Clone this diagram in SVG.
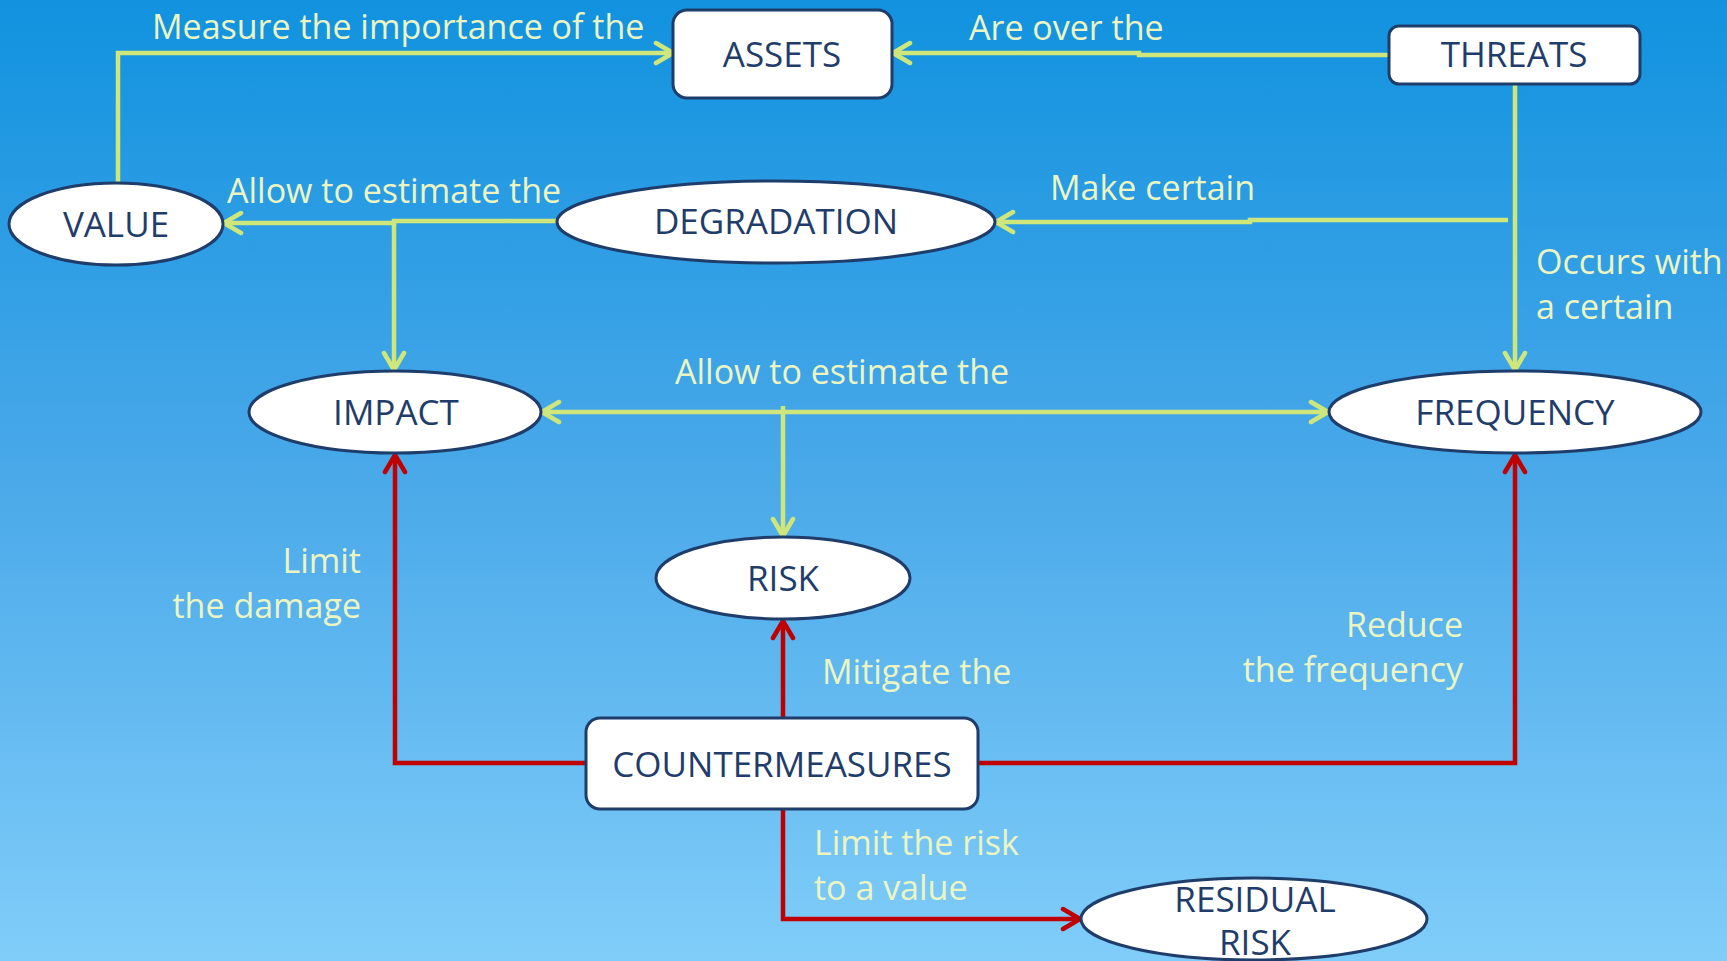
<svg xmlns="http://www.w3.org/2000/svg" width="1727" height="961" viewBox="0 0 1727 961">
<defs>
<linearGradient id="bg" x1="0" y1="0" x2="0" y2="1">
<stop offset="0" stop-color="#1192df"/>
<stop offset="0.5" stop-color="#4aa9e9"/>
<stop offset="1" stop-color="#80cdf9"/>
</linearGradient>
<marker id="ag" viewBox="0 0 22 26" refX="20" refY="13" markerWidth="22" markerHeight="26" markerUnits="userSpaceOnUse" orient="auto-start-reverse">
<path d="M3,3 L20,13 L3,23" fill="none" stroke="#cfe67a" stroke-width="4.5" stroke-linecap="round" stroke-linejoin="round"/>
</marker>
<marker id="ar" viewBox="0 0 22 26" refX="20" refY="13" markerWidth="22" markerHeight="26" markerUnits="userSpaceOnUse" orient="auto-start-reverse">
<path d="M3,3 L20,13 L3,23" fill="none" stroke="#c00000" stroke-width="4.5" stroke-linecap="round" stroke-linejoin="round"/>
</marker>
</defs>
<style>
.node{fill:#ffffff;stroke:#1f3d6b;stroke-width:3}
.nt{font-family:"Open Sans","Liberation Sans",sans-serif;font-size:35px;fill:#1f3d6b;text-anchor:middle}
.lb{font-family:"Open Sans","Liberation Sans",sans-serif;font-size:34px;fill:#ecf5c2}
.g{fill:none;stroke:#cfe67a;stroke-width:4.5;marker-end:url(#ag)}
.r{fill:none;stroke:#c00000;stroke-width:4.5;marker-end:url(#ar)}
</style>
<rect x="0" y="0" width="1727" height="961" fill="url(#bg)"/>

<g id="connectors">
<path class="g" d="M118,182 L118,53 L673,53"/>
<path class="g" d="M1389,55 L1139,55 L1139,53 L893,53"/>
<path class="g" d="M557,221 L394,221 L394,223 L224,223"/>
<path class="g" d="M394,223 L394,370"/>
<path class="g" d="M1508,220 L1250,220 L1250,222 L996,222"/>
<path class="g" d="M1515,84 L1515,370"/>
<path class="g" d="M542,412 L1328,412" style="marker-start:url(#ag)"/>
<path class="g" d="M783,406 L783,536"/>
<path class="r" d="M586,763 L395,763 L395,455"/>
<path class="r" d="M783,718 L783,621"/>
<path class="r" d="M978,763 L1515,763 L1515,455"/>
<path class="r" d="M783,809 L783,919 L1080,919"/>
</g>

<g id="labels">
<text class="lb" x="152" y="39">Measure the importance of the</text>
<text class="lb" x="969" y="40">Are over the</text>
<text class="lb" x="227" y="203">Allow to estimate the</text>
<text class="lb" x="1050" y="200">Make certain</text>
<text class="lb" x="1536" y="274">Occurs with</text>
<text class="lb" x="1536" y="319">a certain</text>
<text class="lb" x="675" y="384">Allow to estimate the</text>
<text class="lb" x="361" y="573" text-anchor="end">Limit</text>
<text class="lb" x="361" y="618" text-anchor="end">the damage</text>
<text class="lb" x="822" y="684">Mitigate the</text>
<text class="lb" x="1463" y="637" text-anchor="end">Reduce</text>
<text class="lb" x="1463" y="682" text-anchor="end">the frequency</text>
<text class="lb" x="814" y="855">Limit the risk</text>
<text class="lb" x="814" y="900">to a value</text>
</g>

<g id="assets">
<rect class="node" x="673" y="10" width="219" height="88" rx="14"/>
<text class="nt" x="782" y="67">ASSETS</text>
</g>
<g id="threats">
<rect class="node" x="1389" y="26" width="251" height="58" rx="10"/>
<text class="nt" x="1514" y="67">THREATS</text>
</g>
<g id="value">
<ellipse class="node" cx="116" cy="224" rx="107" ry="41"/>
<text class="nt" x="116" y="237">VALUE</text>
</g>
<g id="degradation">
<ellipse class="node" cx="776" cy="222" rx="219" ry="41"/>
<text class="nt" x="776" y="234">DEGRADATION</text>
</g>
<g id="impact">
<ellipse class="node" cx="395" cy="412" rx="146" ry="41"/>
<text class="nt" x="396" y="425">IMPACT</text>
</g>
<g id="frequency">
<ellipse class="node" cx="1515" cy="412" rx="186" ry="41"/>
<text class="nt" x="1515" y="425">FREQUENCY</text>
</g>
<g id="risk">
<ellipse class="node" cx="783" cy="578" rx="127" ry="41"/>
<text class="nt" x="783" y="591">RISK</text>
</g>
<g id="countermeasures">
<rect class="node" x="586" y="718" width="392" height="91" rx="14"/>
<text class="nt" x="782" y="777">COUNTERMEASURES</text>
</g>
<g id="residual-risk">
<ellipse class="node" cx="1254" cy="919" rx="173" ry="41"/>
<text class="nt" x="1255" y="912">RESIDUAL</text>
<text class="nt" x="1255" y="955">RISK</text>
</g>
</svg>
